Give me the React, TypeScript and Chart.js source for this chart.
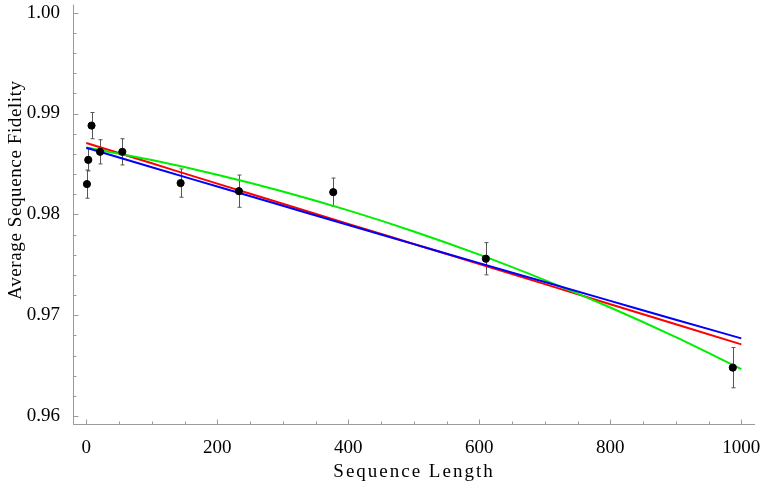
import React, { useEffect, useRef } from "react";
import { Chart, Plugin, registerables } from "chart.js";

Chart.register(...registerables);

// measured points (sequence length, mean fidelity, error bar half-height)
const seqLengths = [1, 3, 8, 21, 55, 144, 233, 377, 610, 987];
const fidelity = [0.983, 0.9854, 0.9888, 0.9862, 0.9862, 0.9831, 0.9823, 0.9822, 0.9756, 0.9648];
const fidelityErr = [0.0014, 0.0011, 0.0013, 0.0012, 0.0013, 0.0014, 0.0016, 0.0014, 0.0016, 0.002];

// fitted curves, every 100
const fitLengths = [0, 100, 200, 300, 400, 500, 600, 700, 800, 900, 1000];
const fitRed = [0.98707, 0.98506, 0.98305, 0.98105, 0.97905, 0.97706, 0.97507, 0.97308, 0.97109, 0.9691, 0.96711];
const fitGreen = [0.98662, 0.98538, 0.98393, 0.98227, 0.98039, 0.9783, 0.976, 0.97348, 0.97076, 0.96782, 0.96466];
const fitBlue = [0.9866, 0.98467, 0.98276, 0.98085, 0.97894, 0.97705, 0.97516, 0.97329, 0.97142, 0.96955, 0.9677];

const xMajorTicks = [0, 200, 400, 600, 800, 1000];
const xMinorTicks = [50, 100, 150, 250, 300, 350, 450, 500, 550, 650, 700, 750, 850, 900, 950];
const yMajorTicks = [0.96, 0.97, 0.98, 0.99, 1.0];
const yMinorTicks = [
  0.962, 0.964, 0.966, 0.968, 0.972, 0.974, 0.976, 0.978, 0.982, 0.984, 0.986, 0.988, 0.992, 0.994,
  0.996, 0.998,
];

const SERIF = '"Liberation Serif", "Times New Roman", serif';
const AXIS_GREY = "#9a9a9a";

const toXY = (xs: number[], ys: number[]) => xs.map((x, i) => ({ x, y: ys[i] }));

// Mathematica-like frame: axis lines, inward ticks, error bars, spaced axis titles
const frameAxes: Plugin<"scatter"> = {
  id: "frameAxes",
  beforeDatasetsDraw(chart) {
    const { ctx, chartArea, scales } = chart;
    const xs = scales.x;
    const ys = scales.y;
    const ax = Math.round(chartArea.left) + 0.5;
    const ay = Math.round(chartArea.bottom) + 0.5;

    ctx.save();
    ctx.strokeStyle = AXIS_GREY;
    ctx.lineWidth = 1;
    ctx.beginPath();
    ctx.moveTo(chartArea.left, ay);
    ctx.lineTo(chartArea.right, ay);
    ctx.moveTo(ax, chartArea.top);
    ctx.lineTo(ax, chartArea.bottom);

    const xTick = (v: number, len: number) => {
      const px = Math.round(xs.getPixelForValue(v)) + 0.5;
      ctx.moveTo(px, ay);
      ctx.lineTo(px, ay - len);
    };
    const yTick = (v: number, len: number) => {
      const py = Math.round(ys.getPixelForValue(v)) + 0.5;
      ctx.moveTo(ax, py);
      ctx.lineTo(ax + len, py);
    };
    xMajorTicks.forEach((v) => xTick(v, 5));
    xMinorTicks.forEach((v) => xTick(v, 3));
    yMajorTicks.forEach((v) => yTick(v, 5));
    yMinorTicks.forEach((v) => yTick(v, 3));
    ctx.stroke();

    // error bars
    ctx.strokeStyle = "#555";
    ctx.beginPath();
    seqLengths.forEach((len, i) => {
      const px = Math.round(xs.getPixelForValue(len)) + 0.5;
      const hi = ys.getPixelForValue(fidelity[i] + fidelityErr[i]);
      const lo = ys.getPixelForValue(fidelity[i] - fidelityErr[i]);
      ctx.moveTo(px, hi);
      ctx.lineTo(px, lo);
      ctx.moveTo(px - 2, hi);
      ctx.lineTo(px + 2, hi);
      ctx.moveTo(px - 2, lo);
      ctx.lineTo(px + 2, lo);
    });
    ctx.stroke();
    ctx.restore();
  },
  afterDraw(chart) {
    const { ctx, chartArea } = chart;
    ctx.save();
    ctx.fillStyle = "#000";
    ctx.font = `19px ${SERIF}`;
    ctx.textAlign = "center";
    ctx.textBaseline = "alphabetic";

    (ctx as any).letterSpacing = "2px";
    ctx.fillText("Sequence Length", (chartArea.left + chartArea.right) / 2, 477);

    (ctx as any).letterSpacing = "0.6px";
    ctx.translate(21, 190);
    ctx.rotate(-Math.PI / 2);
    ctx.fillText("Average Sequence Fidelity", 0, 0);
    ctx.restore();
  },
};

const App: React.FC = () => {
  const canvasRef = useRef<HTMLCanvasElement | null>(null);
  const chartRef = useRef<Chart<"scatter"> | null>(null);

  useEffect(() => {
    if (!canvasRef.current) return;

    chartRef.current = new Chart(canvasRef.current, {
      type: "scatter",
      data: {
        datasets: [
          {
            label: "data",
            data: toXY(seqLengths, fidelity),
            backgroundColor: "#000",
            borderColor: "#000",
            pointRadius: 3.6,
            pointHoverRadius: 3.6,
          },
          {
            label: "fit blue",
            data: toXY(fitLengths, fitBlue),
            showLine: true,
            borderColor: "#0000ff",
            borderWidth: 2,
            pointRadius: 0,
            cubicInterpolationMode: "monotone",
          },
          {
            label: "fit green",
            data: toXY(fitLengths, fitGreen),
            showLine: true,
            borderColor: "#00ee00",
            borderWidth: 2,
            pointRadius: 0,
            cubicInterpolationMode: "monotone",
          },
          {
            label: "fit red",
            data: toXY(fitLengths, fitRed),
            showLine: true,
            borderColor: "#ff0000",
            borderWidth: 2,
            pointRadius: 0,
            cubicInterpolationMode: "monotone",
          },
        ],
      },
      options: {
        animation: false,
        responsive: true,
        maintainAspectRatio: false,
        layout: { padding: { left: 0, top: 3, right: 8, bottom: 0 } },
        plugins: {
          legend: { display: false },
          tooltip: { enabled: false },
        },
        scales: {
          x: {
            type: "linear",
            min: -20.3,
            max: 1020.9,
            grid: { display: false },
            border: { display: false },
            ticks: {
              color: "#000",
              font: { family: SERIF, size: 19 },
              padding: 5,
              maxRotation: 0,
              callback: (v) => String(v),
            },
            afterBuildTicks: (scale) => {
              scale.ticks = xMajorTicks.map((value) => ({ value }));
            },
            afterFit: (scale) => {
              scale.height = 59;
              scale.paddingLeft = 0;
              scale.paddingRight = 0;
            },
          },
          y: {
            type: "linear",
            min: 0.95921,
            max: 1.0008,
            grid: { display: false },
            border: { display: false },
            ticks: {
              color: "#000",
              font: { family: SERIF, size: 19 },
              padding: 5,
              callback: (v) => Number(v).toFixed(2),
            },
            afterBuildTicks: (scale) => {
              scale.ticks = yMajorTicks.map((value) => ({ value }));
            },
            afterFit: (scale) => {
              scale.width = 73;
              scale.paddingTop = 0;
              scale.paddingBottom = 0;
            },
          },
        },
      },
      plugins: [frameAxes],
    });

    return () => {
      chartRef.current?.destroy();
    };
  }, []);

  return (
    <div style={{ position: "absolute", left: 0, top: 0, width: 763, height: 483, background: "#fff" }}>
      <canvas ref={canvasRef}></canvas>
    </div>
  );
};

export default App;
